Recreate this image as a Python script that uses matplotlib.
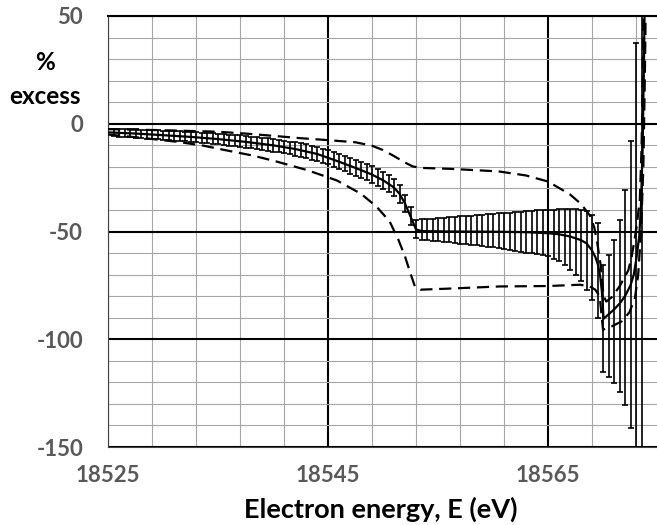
import numpy as np
import matplotlib.pyplot as plt
from matplotlib.ticker import FixedLocator

# error bar points, every 0.5 eV
bar_e = np.arange(18525.5, 18574.0, 0.5)
bar_mid = [-4.1, -4.2, -4.3, -4.4, -4.55, -4.7, -4.85, -5.0, -5.15, -5.3,
           -5.45, -5.6, -5.75, -5.9, -6.1, -6.3, -6.5, -6.7, -6.9, -7.1,
           -7.35, -7.6, -7.85, -8.1, -8.4, -8.7, -9.0, -9.3, -9.65, -10.0,
           -10.4, -10.8, -11.25, -11.7, -12.25, -12.8, -13.4, -14.0, -14.8, -15.6,
           -16.6, -17.6, -18.6, -19.6, -20.55, -21.5, -22.5, -23.6, -24.85, -26.2,
           -27.8, -29.6, -32.5, -37.0, -43.0,
           -48.8, -49.1, -49.1, -49.2, -49.2, -49.2, -49.2, -49.2, -49.3, -49.3,
           -49.4, -49.4, -49.5, -49.6, -49.6, -49.7, -49.8, -49.9, -50.0, -50.1,
           -50.2, -50.3, -50.4, -50.5, -50.8, -51.3, -51.8, -52.5, -53.6, -54.8,
           -56.3, -58.9, -62.0, -68.2, -90.2, -89.1, -87.1, -84.4, -80.5, -74.7,
           -68.8, -55.0]
bar_err = [1.8, 1.8, 1.9, 1.9, 1.9, 2.0, 2.0, 2.0, 2.1, 2.1,
           2.1, 2.2, 2.2, 2.3, 2.3, 2.3, 2.4, 2.4, 2.5, 2.5,
           2.5, 2.6, 2.6, 2.7, 2.7, 2.7, 2.8, 2.8, 2.9, 2.9,
           2.9, 3.0, 3.0, 3.1, 3.1, 3.2, 3.2, 3.2, 3.3, 3.3,
           3.4, 3.5, 3.5, 3.6, 3.7, 3.7, 3.8, 3.8, 3.9, 3.9,
           4.0, 4.0, 4.1, 4.1, 4.2,
           4.3, 4.7, 4.9, 5.2, 5.4, 5.6, 5.8, 6.0, 6.3, 6.5,
           6.8, 7.0, 7.3, 7.6, 7.8, 8.1, 8.4, 8.7, 9.0, 9.3,
           9.6, 9.9, 10.2, 10.4, 10.8, 11.5, 12.1, 12.9, 14.1, 15.3,
           16.5, 18.2, 19.8, 22.1, 24.8, 28.3, 33.3, 39.9, 49.9, 66.5,
           106.2, 145.0]

# solid curve
fit_e = [18525, 18527.5, 18530, 18532.5, 18535, 18537.5, 18540, 18542, 18544, 18546,
         18548, 18549, 18550, 18551, 18551.5, 18552, 18552.5, 18553, 18553.5, 18556,
         18560, 18563, 18565, 18566, 18567, 18568, 18568.5, 18569, 18569.3, 18569.55,
         18569.75, 18569.9, 18570.0, 18570.05, 18570.5, 18571, 18571.5, 18572, 18572.5,
         18572.8, 18573.05, 18573.3, 18573.45, 18573.6, 18573.7, 18573.8]
fit_v = [-4.0, -4.55, -5.3, -6.1, -7.1, -8.4, -10.0, -11.7, -14.0, -17.6,
         -21.5, -23.6, -26.2, -29.6, -32.5, -37.0, -43.0, -49.0, -49.8, -50.0,
         -50.1, -50.3, -50.8, -51.3, -52.3, -54.0, -55.5, -58.8, -61.8, -65.5,
         -71.0, -78.0, -86.0, -90.5, -88.5, -86.2, -83.5, -80.0, -75.0,
         -70.0, -62.0, -52.0, -38.0, -12.0, 20.0, 60.0]

# upper dashed curve
up_e = [18525, 18530, 18535, 18537.6, 18540, 18542.5, 18545, 18547.5, 18549, 18550,
        18551, 18552, 18552.7, 18553.5, 18556, 18560.5, 18563, 18565, 18566, 18567,
        18568, 18568.8, 18569.2, 18569.5, 18569.8, 18570.05, 18570.3, 18570.8, 18571.5,
        18572.3, 18572.6, 18573.05, 18573.35, 18573.5, 18573.6, 18573.7]
up_v = [-2.5, -3.0, -3.7, -4.6, -5.6, -6.7, -7.6, -8.6, -10.2, -12.2,
        -15.0, -18.0, -19.8, -20.5, -20.9, -22.1, -24.0, -26.8, -29.8, -32.8,
        -37.2, -42.5, -48.0, -56.0, -66.0, -80.0, -82.5, -80.5, -75.5,
        -68.0, -62.0, -48.0, -35.0, -12.0, 15.0, 60.0]

# lower dashed curve
lo_e = [18525, 18528, 18531.5, 18533.7, 18536.1, 18538.2, 18540.3, 18543.1, 18545.8, 18548,
        18549.4, 18550.6, 18551.4, 18552, 18552.5, 18552.9, 18553.4, 18556, 18560.6, 18565,
        18567.9, 18568.8, 18569.3, 18569.7, 18570.0, 18570.8, 18571.7, 18572.4, 18572.9,
        18573.2, 18573.45, 18573.67, 18573.8, 18573.9]
lo_v = [-5.0, -6.5, -8.5, -10.2, -12.7, -14.8, -17.5, -21.5, -26.3, -32.5,
        -38.4, -45.3, -53.8, -61.6, -69.5, -75.5, -77.0, -76.5, -75.5, -75.3,
        -74.7, -75.5, -77.0, -80.1, -95.6, -94.0, -91.7, -87.5, -81.0,
        -70.0, -50.7, -19.8, 20.0, 60.0]

x_ticks = [18525, 18545, 18565]
x_labels = ['18525', '18545', '18565']
y_ticks = [-150, -100, -50, 0, 50]
y_labels = ['-150', '-100', '-50', '0', '50']

plt.rcParams['font.family'] = ['Lato', 'DejaVu Sans']
plt.rcParams['font.weight'] = 'bold'

fig = plt.figure(figsize=(6.57, 5.25), dpi=100)
ax = fig.add_axes([108 / 657, 78 / 525, 550 / 657, 431 / 525])

ax.errorbar(bar_e, bar_mid, yerr=bar_err, fmt='none', ecolor='black',
            elinewidth=1.2, capsize=2.2, capthick=1.2, zorder=3)
ax.plot(fit_e, fit_v, color='black', lw=1.6, zorder=4)
ax.plot(up_e, up_v, color='black', lw=1.6, linestyle=(0, (5.5, 3)), zorder=4)
ax.plot(lo_e, lo_v, color='black', lw=1.6, linestyle=(0, (5.5, 3)), zorder=4)

ax.set_xlim(18525, 18575)
ax.set_ylim(-150, 50)

ax.xaxis.set_major_locator(FixedLocator(x_ticks))
ax.set_xticklabels(x_labels)
ax.yaxis.set_major_locator(FixedLocator(y_ticks))
ax.set_yticklabels(y_labels)
ax.xaxis.set_minor_locator(FixedLocator([v for v in range(18529, 18576, 4) if v not in x_ticks]))
ax.yaxis.set_minor_locator(FixedLocator([v for v in range(-140, 50, 10) if v not in y_ticks]))

ax.set_axisbelow(True)
ax.grid(which='major', color='black', lw=1.5)
ax.grid(which='minor', color='#a6a6a6', lw=0.8)

ax.tick_params(axis='both', which='both', length=0, labelsize=16, labelcolor='#595959')
ax.tick_params(axis='x', pad=13)
ax.tick_params(axis='y', pad=18)

for side in ['left', 'bottom']:
    ax.spines[side].set_color('#404040')
    ax.spines[side].set_linewidth(0.8)
ax.spines['top'].set_linewidth(1.5)
ax.spines['right'].set_visible(False)

fig.text(45 / 657, 1 - 62 / 525, '%', ha='center', va='center', fontsize=17.5, color='black')
fig.text(45 / 657, 1 - 97 / 525, 'excess', ha='center', va='center', fontsize=17.5, color='black')
fig.text(381 / 657, 1 - 509 / 525, 'Electron energy, E (eV)', ha='center', va='center',
         fontsize=19.5, color='black')

fig.savefig('out.png', dpi=100)
